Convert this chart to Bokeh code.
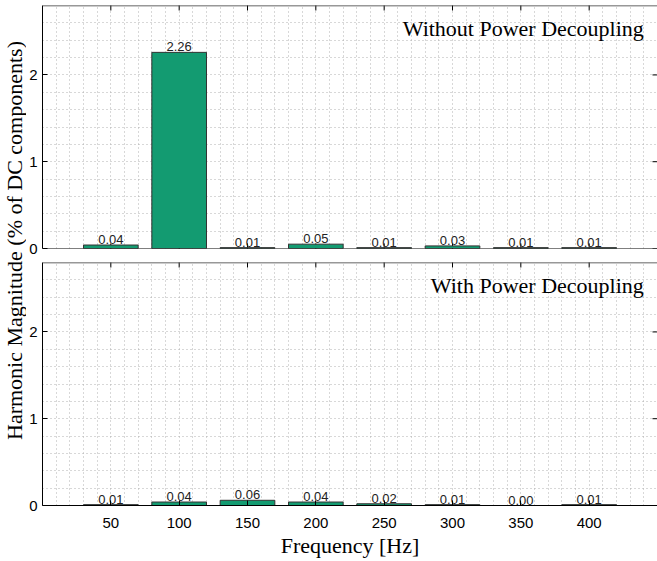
import math
from bokeh.plotting import figure
from bokeh.layouts import row, column
from bokeh.models import (ColumnDataSource, FixedTicker, LinearAxis, Label, Range1d, Grid, Span)
from bokeh.core.properties import value
from bokeh.embed import file_html
from bokeh.resources import INLINE

# ---- data ----
freqs = [50, 100, 150, 200, 250, 300, 350, 400]
without_vals = [0.04, 2.26, 0.01, 0.05, 0.01, 0.03, 0.01, 0.01]
with_vals = [0.01, 0.04, 0.06, 0.04, 0.02, 0.01, 0.00, 0.01]
y_ticks = [0, 1, 2]
panel_titles = ["Without Power Decoupling", "With Power Decoupling"]
x_label = "Frequency [Hz]"
y_label = "Harmonic Magnitude (% of DC components)"

BAR_FILL = "#139b71"
BAR_EDGE = "#333333"
GRID_COLOR = "#b0b0b0"
SANS = "Liberation Sans"
SERIF = "Liberation Serif"

X_MIN, X_MAX = 0, 450
Y_MIN, Y_MAX = 0, 2.8
LAB_W = 26
FIG_W = 631
FRAME_H = 243
TOP_B = 5
GAP_HALF = 7
BOTTOM_B = 55
TICK_LEN = 10  # marker length; half of it falls inside the frame


def make_panel(vals, title, show_x, height, bt, bb):
    p = figure(width=FIG_W, height=height,
               x_range=Range1d(X_MIN, X_MAX), y_range=Range1d(Y_MIN, Y_MAX),
               x_axis_type=None, y_axis_type=None,
               output_backend="svg", toolbar_location=None,
               min_border_left=16, min_border_right=0,
               min_border_top=bt, min_border_bottom=bb,
               outline_line_color=None)

    xg = Grid(dimension=0, ticker=FixedTicker(ticks=list(range(10, 450, 10))),
              grid_line_color=GRID_COLOR, grid_line_dash="1 3", grid_line_width=1)
    yg = Grid(dimension=1, ticker=FixedTicker(ticks=[round(0.2 * i, 1) for i in range(1, 14)]),
              grid_line_color=GRID_COLOR, grid_line_dash="1 3", grid_line_width=1)
    p.add_layout(xg)
    p.add_layout(yg)

    left = LinearAxis(ticker=FixedTicker(ticks=y_ticks))
    left.axis_line_color = "black"
    left.major_tick_in = 5
    left.major_tick_out = 0
    left.minor_tick_in = 0
    left.minor_tick_out = 0
    left.major_tick_line_color = "black"
    left.major_label_text_font = SANS
    left.major_label_text_font_size = "15px"
    left.major_label_text_color = "black"
    left.major_label_standoff = 5
    p.add_layout(left, "left")

    if show_x:
        below = LinearAxis(ticker=FixedTicker(ticks=freqs))
        below.axis_line_color = "black"
        below.major_tick_in = 5
        below.major_tick_out = 0
        below.minor_tick_in = 0
        below.minor_tick_out = 0
        below.major_tick_line_color = "black"
        below.major_label_text_font = SANS
        below.major_label_text_font_size = "15px"
        below.major_label_text_color = "black"
        below.major_label_standoff = 12
        below.axis_label = x_label
        below.axis_label_text_font = SERIF
        below.axis_label_text_font_size = "22px"
        below.axis_label_text_font_style = "normal"
        below.axis_label_text_color = "black"
        below.axis_label_standoff = 2
        p.add_layout(below, "below")
    else:
        p.add_layout(Span(location=Y_MIN, dimension="width", line_color="black", line_width=1))
        p.scatter(x=freqs, y=[Y_MIN] * len(freqs), marker="dash", angle=math.pi / 2,
                  size=TICK_LEN, line_color="black", line_width=1)

    # top frame line + inward ticks
    p.add_layout(Span(location=Y_MAX, dimension="width", line_color="#333333", line_width=1.5))
    p.scatter(x=freqs, y=[Y_MAX] * len(freqs), marker="dash", angle=math.pi / 2,
              size=TICK_LEN, line_color="black", line_width=1)
    # right inward ticks
    p.scatter(x=[X_MAX] * len(y_ticks), y=y_ticks, marker="dash",
              size=TICK_LEN, line_color="black", line_width=1)

    src = ColumnDataSource(dict(x=freqs, top=vals, label=["%.2f" % v for v in vals]))
    p.vbar(x="x", top="top", bottom=0, width=40, source=src,
           fill_color=BAR_FILL, line_color=BAR_EDGE, line_width=1)
    p.text(x="x", y="top", text="label", source=src, y_offset=-1,
           text_align="center", text_baseline="bottom",
           text_font=value(SANS), text_font_size="13px", text_color="#222222")

    p.add_layout(Label(x=440, y=2.53, text=title, text_align="right",
                       text_baseline="middle", text_font=SERIF,
                       text_font_size="22px", text_color="black"))
    return p


top_h = TOP_B + FRAME_H + GAP_HALF
bot_h = GAP_HALF + FRAME_H + BOTTOM_B
total_h = top_h + bot_h

p_top = make_panel(without_vals, panel_titles[0], False, top_h, TOP_B, GAP_HALF)
p_bot = make_panel(with_vals, panel_titles[1], True, bot_h, GAP_HALF, BOTTOM_B)

lab = figure(width=LAB_W, height=total_h, x_range=Range1d(0, LAB_W), y_range=Range1d(0, total_h),
             x_axis_type=None, y_axis_type=None, output_backend="svg",
             toolbar_location=None, min_border=0, outline_line_color=None)
lab.grid.visible = False
lab.add_layout(Label(x=14, y=total_h - 240, text=y_label,
                     angle=math.pi / 2, text_align="center", text_baseline="middle",
                     text_font=SERIF, text_font_size="22px", text_color="black"))

layout = row(lab, column(p_top, p_bot))

with open("out.html", "w") as f:
    f.write(file_html(layout, INLINE))
